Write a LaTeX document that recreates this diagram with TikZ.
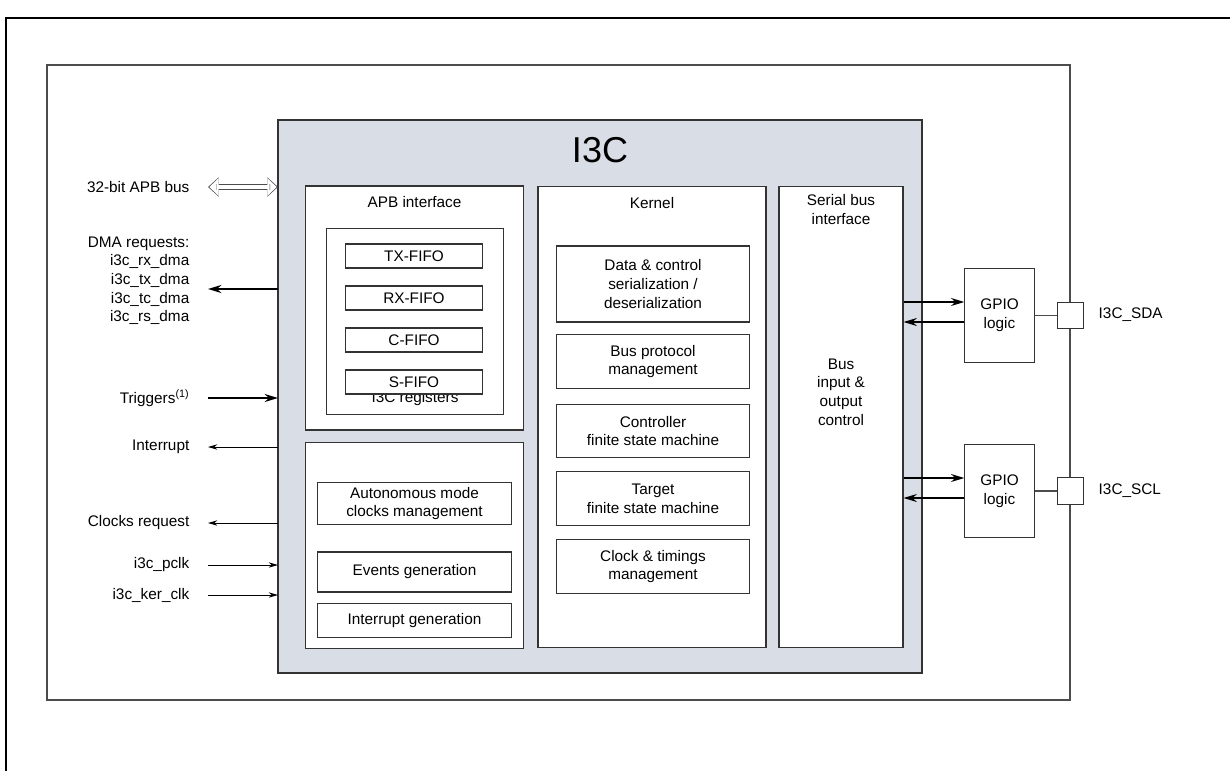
\documentclass[tikz,border=0pt]{standalone}
\usepackage{fontspec}
\setmainfont{Liberation Sans}
\usetikzlibrary{arrows.meta,positioning}

\tikzset{
  blk/.style={draw=black!80, fill=white, line width=0.8pt, align=center, inner sep=1pt},
  thin arr/.style={-{Stealth[length=7pt,width=4pt]}, line width=0.6pt},
  thick arr/.style={-{Stealth[length=10pt,width=6pt]}, line width=1.6pt}
}

\begin{document}
\begin{tikzpicture}[x=0.75pt,y=0.75pt,yscale=-1,xscale=1,font=\fontsize{11.5}{14}\selectfont]
        \useasboundingbox (0,0) rectangle (1230,771);
        % frames
        \draw [line width=2pt] (6,771) -- (6,18) -- (1230,18);
        \draw [line width=0.8pt, black!70] (47,65) rectangle (1070,700);
        \draw [line width=0.8pt, black!80, fill={rgb,255:red,217;green,221;blue,229}] (278,120) rectangle (922,673);
        \node [font=\fontsize{27}{30}\selectfont] (title) at (600,150) {I3C};

        % APB interface
        \node [blk, minimum width=164pt, minimum height=183pt] (apb) at (414.5,308) {};
        \node [below=5pt of apb.north] (apbl) {APB interface};
        \node [blk, minimum width=133pt, minimum height=140pt] (regs) at (415,321.5) {};
        \node [above=4pt of regs.south] (regl) {I3C registers};
        \node [blk, minimum width=103pt, minimum height=18pt] (txf) at (414,256) {TX-FIFO};
        \node [blk, minimum width=103pt, minimum height=18pt] (rxf) at (414,298) {RX-FIFO};
        \node [blk, minimum width=103pt, minimum height=18pt] (cf) at (414,340) {C-FIFO};
        \node [blk, minimum width=103pt, minimum height=18pt] (sf) at (414,382) {S-FIFO};

        % autonomous block
        \node [blk, minimum width=164pt, minimum height=154pt] (aut) at (414.5,545.5) {};
        \node [blk, minimum width=145pt, minimum height=31pt] (acm) at (414.5,503.5) {Autonomous mode\\clocks management};
        \node [blk, minimum width=145pt, minimum height=30pt] (evg) at (414.5,572) {Events generation};
        \node [blk, minimum width=145pt, minimum height=25pt] (itg) at (414.5,620.5) {Interrupt generation};

        % kernel
        \node [blk, minimum width=171pt, minimum height=346pt] (ker) at (652,417) {};
        \node [below=5pt of ker.north] (kerl) {Kernel};
        \node [blk, minimum width=145pt, minimum height=57pt] (dcs) at (653,284) {Data \& control\\serialization /\\deserialization};
        \node [blk, minimum width=145pt, minimum height=40pt] (bpm) at (653,361.5) {Bus protocol\\management};
        \node [blk, minimum width=145pt, minimum height=40pt] (cfsm) at (653,431) {Controller\\finite state machine};
        \node [blk, minimum width=145pt, minimum height=41pt] (tfsm) at (653,498.5) {Target\\finite state machine};
        \node [blk, minimum width=145pt, minimum height=40pt] (ctm) at (653,566.5) {Clock \& timings\\management};

        % serial bus interface
        \node [blk, minimum width=93pt, minimum height=346pt] (sbi) at (841,417) {};
        \node [below=3pt of sbi.north, align=center] (sbil) {Serial bus\\interface};
        \node [align=center] (bio) at (841,392) {Bus\\input \&\\output\\control};

        % GPIO and pads
        \node [blk, minimum width=52pt, minimum height=71pt] (gsda) at (999.5,315.5) {GPIO\\logic};
        \node [blk, minimum width=52pt, minimum height=70pt] (gscl) at (999.5,491) {GPIO\\logic};
        \node [blk, minimum width=20pt, minimum height=20pt] (psda) at (1070.5,315.5) {};
        \node [blk, minimum width=20pt, minimum height=20pt] (pscl) at (1070.5,491) {};
        \node [anchor=west] (lsda) at (1094,315) {I3C\_SDA};
        \node [anchor=west] (lscl) at (1094,491) {I3C\_SCL};
        \draw [black!70, line width=0.8pt] (gsda.east) -- (psda.west);
        \draw [black!70, line width=0.8pt] (gscl.east) -- (pscl.west);
        \draw [thick arr, line width=1pt] (sbi.east |- 0,302) -- (gsda.west |- 0,302);
        \draw [thick arr, line width=1pt] (gsda.west |- 0,322) -- (sbi.east |- 0,322);
        \draw [thick arr, line width=1pt] (sbi.east |- 0,478) -- (gscl.west |- 0,478);
        \draw [thick arr, line width=1pt] (gscl.west |- 0,498) -- (sbi.east |- 0,498);

        % left side signals
        \node [anchor=east] (apbbus) at (194,187) {32-bit APB bus};
        \node [anchor=north east, align=right] (dma) at (194,232) {DMA requests:\\i3c\_rx\_dma\\i3c\_tx\_dma\\i3c\_tc\_dma\\i3c\_rs\_dma};
        \node [anchor=east] (trg) at (194,398) {Triggers\textsuperscript{(1)}};
        \node [anchor=east] (irq) at (194,447) {Interrupt};
        \node [anchor=east] (clkr) at (194,523) {Clocks request};
        \node [anchor=east] (pclk) at (194,565) {i3c\_pclk};
        \node [anchor=east] (kclk) at (194,595) {i3c\_ker\_clk};
        \coordinate (e) at (278,0);
        \draw [{Triangle[open,length=8pt,width=14pt]}-{Triangle[open,length=8pt,width=14pt]}, line width=5pt, black!70] (208,187) -- (e |- 0,187);
        \draw [{Triangle[open,length=7pt,width=13pt]}-{Triangle[open,length=7pt,width=13pt]}, line width=3.6pt, white, shorten <=1pt, shorten >=1pt] (208,187) -- (e |- 0,187);
        \draw [thick arr] (e |- 0,289) -- (208,289);
        \draw [thick arr] (208,398) -- (e |- 0,398);
        \draw [thin arr] (e |- 0,447) -- (208,447);
        \draw [thin arr] (e |- 0,523) -- (208,523);
        \draw [thin arr] (208,565) -- (e |- 0,565);
        \draw [thin arr] (208,595) -- (e |- 0,595);
\end{tikzpicture}
\end{document}
